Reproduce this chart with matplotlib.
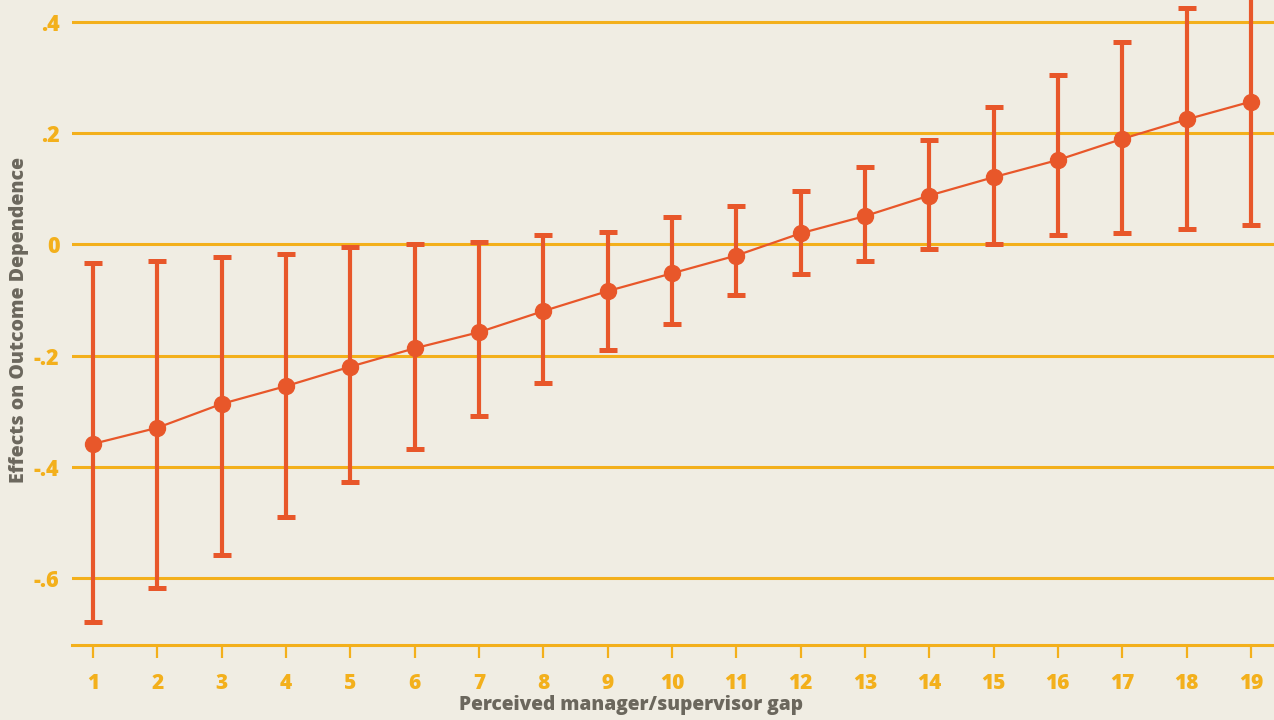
import matplotlib
matplotlib.use("Agg")
import matplotlib.pyplot as plt

gap = list(range(1, 20))
effect = [-0.359, -0.330, -0.287, -0.255, -0.220, -0.187, -0.158, -0.120, -0.084, -0.052,
          -0.020, 0.020, 0.051, 0.088, 0.121, 0.152, 0.190, 0.225, 0.257]
lower = [-0.679, -0.618, -0.559, -0.491, -0.428, -0.369, -0.309, -0.250, -0.190, -0.144,
         -0.091, -0.053, -0.030, -0.008, 0.001, 0.017, 0.021, 0.028, 0.035]
upper = [-0.034, -0.029, -0.022, -0.017, -0.005, 0.000, 0.005, 0.017, 0.022, 0.049,
         0.070, 0.096, 0.139, 0.188, 0.247, 0.305, 0.364, 0.425, 0.479]
yticks = [-0.6, -0.4, -0.2, 0.0, 0.2, 0.4]
ytick_labels = ["-.6", "-.4", "-.2", "0", ".2", ".4"]

BG = "#F0EDE3"
GOLD = "#F3B01C"
ORANGE = "#E8572A"
GRAY = "#6B675D"

plt.rcParams['font.family'] = ['Open Sans', 'DejaVu Sans']

fig = plt.figure(figsize=(12.74, 7.2), dpi=100, facecolor=BG)
ax = fig.add_axes([72/1274, 1 - 645/720, 1 - 72/1274, 645/720])
ax.set_facecolor(BG)

yerr = [[e - l for e, l in zip(effect, lower)], [u - e for e, u in zip(effect, upper)]]
ax.errorbar(gap, effect, yerr=yerr, fmt='o-', color=ORANGE, ecolor=ORANGE,
            elinewidth=3.0, capsize=6.2, capthick=3.6, markersize=11.5,
            linewidth=1.6, zorder=3)

ax.set_xlim(0.674, 19.36)
ax.set_ylim(-0.721, 0.44)

ax.set_yticks(yticks)
ax.set_yticklabels(ytick_labels)
ax.set_xticks(gap)
ax.set_xticklabels([str(g) for g in gap])

for y in yticks:
    ax.axhline(y, color=GOLD, linewidth=2.2, zorder=1)

for s in ['top', 'right', 'left']:
    ax.spines[s].set_visible(False)
ax.spines['bottom'].set_color(GOLD)
ax.spines['bottom'].set_linewidth(2.2)

ax.tick_params(axis='y', length=0, pad=9, labelsize=15.5, labelcolor=GOLD)
ax.tick_params(axis='x', length=9.5, width=1.6, color=GOLD, pad=10.5,
               labelsize=15, labelcolor=GOLD)
for lab in ax.get_xticklabels() + ax.get_yticklabels():
    lab.set_fontweight(800)

fig.text(631/1274, 1 - 705/720, "Perceived manager/supervisor gap", ha='center', va='center',
         fontsize=13.8, fontweight=800, color=GRAY)
fig.text(19/1274, 1 - 320/720, "Effects on Outcome Dependence", ha='center', va='center',
         rotation=90, fontsize=14.0, fontweight=800, color=GRAY)

fig.savefig("out.png", dpi=100, facecolor=BG)
